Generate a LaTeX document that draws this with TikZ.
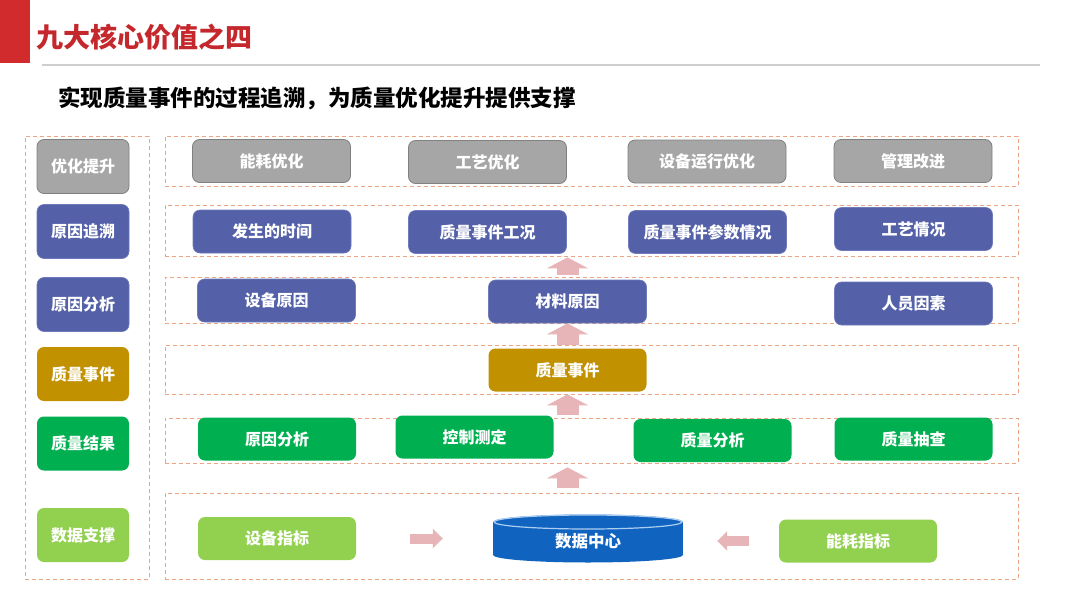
\documentclass[tikz,border=0pt]{standalone}
\usepackage{fontspec}
\setmainfont{Noto Sans CJK SC}
\usetikzlibrary{arrows.meta}
\definecolor{frameC}{RGB}{236,165,128}
\definecolor{titleRed}{RGB}{196,40,44}
\definecolor{barRed}{RGB}{210,43,45}
\definecolor{ruleGray}{RGB}{206,206,206}
\definecolor{boxGray}{RGB}{166,166,166}
\definecolor{boxGrayB}{RGB}{128,128,128}
\definecolor{boxBlue}{RGB}{84,97,168}
\definecolor{boxBlueB}{RGB}{110,122,186}
\definecolor{boxGold}{RGB}{193,145,0}
\definecolor{boxGreen}{RGB}{0,175,80}
\definecolor{boxLGreen}{RGB}{146,208,80}
\definecolor{cylBlue}{RGB}{16,100,192}
\definecolor{cylRim}{RGB}{170,205,240}
\definecolor{arrowPink}{RGB}{231,180,184}
\begin{document}
\begin{tikzpicture}[x=1pt,y=-1pt,
  frame/.style={draw=frameC, line width=0.8pt, dash pattern=on 4pt off 3pt, inner sep=0pt},
  cbox/.style={rounded corners=7pt, inner sep=0pt, text=white,
    font=\fontsize{16}{19}\selectfont\bfseries},
  lbox/.style={cbox, minimum width=92pt, minimum height=54pt},
  rbox/.style={cbox, minimum width=158pt, minimum height=43pt},
  grayb/.style={fill=boxGray, draw=boxGrayB, line width=0.8pt},
  blueb/.style={fill=boxBlue, draw=boxBlueB, line width=0.6pt},
  goldb/.style={fill=boxGold},
  greenb/.style={fill=boxGreen},
  lgreenb/.style={fill=boxLGreen},
  uparrow/.style={draw=arrowPink, line width=22pt, -{Triangle[length=11pt,width=41pt]}},
  sidearrow/.style={draw=arrowPink, line width=10pt, -{Triangle[length=10pt,width=19pt]}}
]
\useasboundingbox (0,0) rectangle (1080,608);
\fill[white] (0,0) rectangle (1080,608);

% header
\fill[barRed] (0,0) rectangle (30,63);
\node[anchor=west, inner sep=0pt, text=titleRed, font=\fontsize{27}{30}\selectfont\bfseries] (title) at (36,37) {九大核心价值之四};
\draw[ruleGray, line width=2pt] (42,65) -- (1040,65);
\node[anchor=west, inner sep=0pt, text=black, font=\fontsize{22.5}{26}\selectfont\bfseries] (sub) at (58,98) {实现质量事件的过程追溯，为质量优化提升提供支撑};

% frames
\node[frame, minimum width=124pt, minimum height=443pt] (lf) at (87,357.5) {};
\node[frame, minimum width=853pt, minimum height=50pt] (r1) at (591.5,161) {};
\node[frame, minimum width=853pt, minimum height=51pt] (r2) at (591.5,230.5) {};
\node[frame, minimum width=853pt, minimum height=46pt] (r3) at (591.5,300) {};
\node[frame, minimum width=853pt, minimum height=49pt] (r4) at (591.5,369.5) {};
\node[frame, minimum width=853pt, minimum height=45pt] (r5) at (591.5,440.5) {};
\node[frame, minimum width=853pt, minimum height=86pt] (r6) at (591.5,536) {};

% left column
\node[lbox, grayb]   (l1) at (83,166.5) {优化提升};
\node[lbox, blueb]   (l2) at (83,231.5) {原因追溯};
\node[lbox, blueb]   (l3) at (83,304.5) {原因分析};
\node[lbox, goldb]   (l4) at (83,374)   {质量事件};
\node[lbox, greenb]  (l5) at (83,443.5) {质量结果};
\node[lbox, lgreenb] (l6) at (83,535)   {数据支撑};

% row 1
\node[rbox, grayb] (nhyh) at (271.5,161) {能耗优化};
\node[rbox, grayb] (gyyh) at (487.5,162) {工艺优化};
\node[rbox, grayb] (sbyx) at (707,161.5) {设备运行优化};
\node[rbox, grayb] (glgj) at (913,161) {管理改进};
% row 2
\node[rbox, blueb] (fssj) at (272,231.5) {发生的时间};
\node[rbox, blueb] (sjgk) at (487.5,232) {质量事件工况};
\node[rbox, blueb] (sjcs) at (707.5,232) {质量事件参数情况};
\node[rbox, blueb] (gyqk) at (913.5,229) {工艺情况};
% row 3
\node[rbox, blueb] (sbyy) at (276.5,300.5) {设备原因};
\node[rbox, blueb] (clyy) at (567.5,301.5) {材料原因};
\node[rbox, blueb] (ryys) at (913.5,303.5) {人员因素};
% row 4
\node[rbox, goldb] (sj) at (567.5,370) {质量事件};
% row 5
\node[rbox, greenb] (yyfx) at (277,439) {原因分析};
\node[rbox, greenb] (kzcd) at (474.5,437) {控制测定};
\node[rbox, greenb] (zlfx) at (712.5,440.5) {质量分析};
\node[rbox, greenb] (zlcc) at (913.5,439) {质量抽查};
% row 6
\node[rbox, lgreenb] (sbzb) at (277,538.5) {设备指标};
\node[rbox, lgreenb] (nhzb) at (858,541) {能耗指标};

% data center cylinder
\fill[cylBlue] (588,555) ellipse [x radius=95pt, y radius=7.5pt];
\fill[cylBlue] (493,522) rectangle (683,555);
\fill[cylBlue] (588,522) ellipse [x radius=95pt, y radius=7.5pt];
\draw[cylRim, line width=1.2pt] (588,522) ellipse [x radius=94pt, y radius=7pt];
\node[inner sep=0pt, minimum width=190pt, minimum height=40pt, text=white,
  font=\fontsize{16.5}{19}\selectfont\bfseries] (dc) at (588,541) {数据中心};

% arrows
\draw[sidearrow, shorten <=54pt, shorten >=50pt] (sbzb.east) -- (sbzb.east -| dc.west);
\draw[sidearrow, shorten <=30pt, shorten >=34pt] (nhzb.west) -- (nhzb.west -| dc.east);
\draw[uparrow, shorten <=5pt, shorten >=4pt] (r6.north -| sj) -- (r5.south -| sj);
\draw[uparrow, shorten <=3pt] (r5.north -| sj) -- (r4.south -| sj);
\draw[uparrow] (r4.north -| sj) -- (r3.south -| sj);
\draw[uparrow, shorten <=2pt, shorten >=1pt] (r3.north -| sj) -- (r2.south -| sj);
\end{tikzpicture}
\end{document}
